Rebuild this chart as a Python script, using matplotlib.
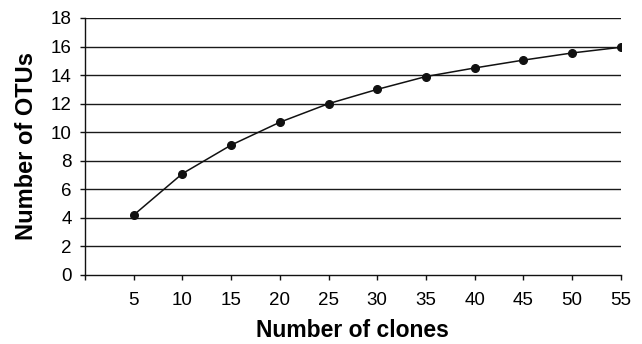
import matplotlib
matplotlib.use("Agg")
import matplotlib.pyplot as plt

plt.rcParams['font.family'] = ['Liberation Sans', 'DejaVu Sans']

clones = [5, 10, 15, 20, 25, 30, 35, 40, 45, 50, 55]
otus = [4.2, 7.1, 9.1, 10.7, 12.0, 13.0, 13.9, 14.5, 15.05, 15.55, 15.95]
y_ticks = [0, 2, 4, 6, 8, 10, 12, 14, 16, 18]

fig = plt.figure(figsize=(6.42, 3.44), dpi=100)
ax = fig.add_axes([0.1324, 0.2006, 0.8346, 0.7471])

for yv in y_ticks[1:]:
    ax.axhline(yv, color='#1a1a1a', lw=1.0, zorder=1)

ax.plot(clones, otus, color='#111111', lw=1.1, marker='o', markersize=5.5, zorder=3)

ax.set_xlim(0, 55)
ax.set_ylim(0, 18)
ax.set_xticks([0] + clones)
ax.set_xticklabels([''] + [str(c) for c in clones])
ax.set_yticks(y_ticks)
ax.tick_params(axis='both', labelsize=13.5, color='#111111', length=3.6, width=1)
ax.tick_params(axis='x', pad=8.5)
ax.tick_params(axis='y', pad=6)

for s in ['top', 'right']:
    ax.spines[s].set_visible(False)
for s in ['left', 'bottom']:
    ax.spines[s].set_color('#111111')
    ax.spines[s].set_linewidth(1.0)

ax.set_xlabel('Number of clones', fontsize=16.5, fontweight='bold', labelpad=7.5)
ax.set_ylabel('Number of OTUs', fontsize=17, fontweight='bold', labelpad=9)

fig.savefig('out.png', dpi=100)
